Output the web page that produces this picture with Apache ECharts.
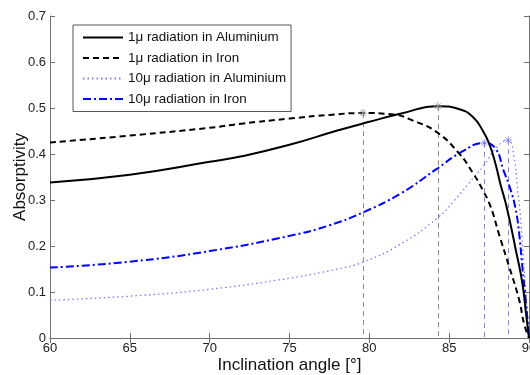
<!DOCTYPE html>
<html>
<head>
<meta charset="utf-8">
<script src="https://cdn.jsdelivr.net/npm/echarts@6/dist/echarts.min.js"></script>
<style>
  html, body { margin: 0; padding: 0; background: #fff; }
  #chart { width: 530px; height: 375px; }
</style>
</head>
<body>
<div id="chart"></div>
<script>
// 1 micron radiation in aluminium (solid black)
const alu1Angle = [60, 65, 70, 72, 75, 78, 80, 82, 84.3, 85.6, 86.5, 87.1, 87.5, 87.9, 88.2, 88.6, 89.17, 89.58, 89.83, 90];
const alu1Abs = [0.338, 0.355, 0.383, 0.395, 0.42, 0.451, 0.47, 0.488, 0.504, 0.498, 0.48, 0.451, 0.423, 0.379, 0.336, 0.285, 0.192, 0.12, 0.048, 0];

// 1 micron radiation in iron (dashed black)
const iron1Angle = [60, 65, 70, 72, 75, 77.5, 79.6, 81.5, 82.7, 84.2, 85.6, 86.5, 87.1, 87.6, 88.1, 88.75, 89.375, 89.7, 90];
const iron1Abs = [0.425, 0.44, 0.457, 0.466, 0.477, 0.485, 0.489, 0.486, 0.473, 0.448, 0.402, 0.358, 0.322, 0.285, 0.228, 0.156, 0.084, 0.03, 0];

// 10 micron radiation in aluminium (dotted light blue)
const alu10Angle = [60, 65, 70, 75, 78, 79.6, 82, 84.3, 85.3, 86.56, 87.1, 88.1, 88.7, 89.06, 89.27, 89.45, 89.6, 89.8, 90];
const alu10Abs = [0.082, 0.091, 0.106, 0.13, 0.15, 0.165, 0.205, 0.262, 0.298, 0.35, 0.372, 0.419, 0.43, 0.394, 0.33, 0.27, 0.2, 0.1, 0];

// 10 micron radiation in iron (dash-dot blue)
const iron10Angle = [60, 65, 70, 75, 77.5, 79.6, 82, 84.2, 85.8, 87.2, 87.9, 88.4, 88.85, 89.17, 89.375, 89.58, 89.79, 90];
const iron10Abs = [0.153, 0.166, 0.189, 0.222, 0.245, 0.273, 0.315, 0.367, 0.405, 0.424, 0.412, 0.365, 0.322, 0.279, 0.23, 0.156, 0.084, 0];

// peak markers
const peakAngle = [79.6, 84.3, 87.2, 88.7];
const peakAbs = [0.489, 0.504, 0.424, 0.43];
const peakColor = ['#8a8a8a', '#8a8a8a', '#8080ff', '#8080ff'];

const seriesNames = [
  '1\u03bc radiation in Aluminium',
  '1\u03bc radiation in Iron',
  '10\u03bc radiation in Aluminium',
  '10\u03bc radiation in Iron'
];

const xTicks = { min: 60, max: 90, interval: 5 };
const yTicks = { min: 0, max: 0.7, interval: 0.1 };

const font = 'Liberation Sans, Arial, Helvetica, sans-serif';
const zip = (xs, ys) => xs.map((x, i) => [x, ys[i]]);

const chart = echarts.init(document.getElementById('chart'));

const axisCommon = {
  axisLine: { show: true, lineStyle: { color: '#707070', width: 1 } },
  axisTick: { show: true, inside: true, length: 5, lineStyle: { color: '#707070' } },
  splitLine: { show: false }
};

const asterisk = 'path://M5,0L5,10M0,5L10,5M1.5,1.5L8.5,8.5M8.5,1.5L1.5,8.5';

const option = {
  animation: false,
  backgroundColor: '#fff',
  textStyle: { fontFamily: font },
  grid: { left: 50, right: 1, top: 16, bottom: 37, outerBoundsMode: 'none', containLabel: false },
  legend: {
    data: seriesNames,
    orient: 'vertical',
    left: 73,
    top: 25,
    padding: [6, 5, 6, 9],
    itemWidth: 40,
    itemHeight: 14,
    itemGap: 7.5,
    backgroundColor: '#fff',
    borderColor: '#555',
    borderWidth: 1,
    borderRadius: 0,
    itemStyle: { opacity: 0 },
    textStyle: { fontSize: 13.4, color: '#111', fontFamily: font }
  },
  xAxis: [
    Object.assign({
      type: 'value',
      min: xTicks.min, max: xTicks.max, interval: xTicks.interval,
      name: 'Inclination angle [\u00b0]',
      nameLocation: 'middle',
      nameGap: 19,
      nameMoveOverlap: false,
      nameTextStyle: { fontSize: 17, color: '#111', fontFamily: font },
      axisLabel: { fontSize: 13, color: '#222', margin: 4, fontFamily: font }
    }, axisCommon),
    Object.assign({
      type: 'value', position: 'top',
      min: xTicks.min, max: xTicks.max, interval: xTicks.interval,
      axisLabel: { show: false }
    }, axisCommon)
  ],
  yAxis: [
    Object.assign({
      type: 'value',
      min: yTicks.min, max: yTicks.max, interval: yTicks.interval,
      name: 'Absorptivity',
      nameLocation: 'middle',
      nameGap: 21,
      nameMoveOverlap: false,
      nameTextStyle: { fontSize: 17, color: '#111', fontFamily: font },
      axisLabel: {
        fontSize: 13, color: '#222', margin: 4, fontFamily: font,
        formatter: v => String(Math.round(v * 10) / 10)
      }
    }, axisCommon),
    Object.assign({
      type: 'value', position: 'right',
      min: yTicks.min, max: yTicks.max, interval: yTicks.interval,
      axisLabel: { show: false }
    }, axisCommon)
  ],
  series: [
    {
      name: seriesNames[0],
      type: 'line',
      data: zip(alu1Angle, alu1Abs),
      smooth: 0.5,
      symbol: 'none',
      z: 5,
      lineStyle: { color: '#000', width: 2, type: 'solid' },
      itemStyle: { color: '#000' }
    },
    {
      name: seriesNames[1],
      type: 'line',
      data: zip(iron1Angle, iron1Abs),
      smooth: 0.5,
      symbol: 'none',
      z: 5,
      lineStyle: { color: '#000', width: 2, type: [6, 4] },
      itemStyle: { color: '#000' }
    },
    {
      name: seriesNames[2],
      type: 'line',
      data: zip(alu10Angle, alu10Abs),
      smooth: 0.5,
      symbol: 'none',
      z: 4,
      lineStyle: { color: '#7b7bff', width: 1.3, type: [1.5, 3] },
      itemStyle: { color: '#7b7bff' }
    },
    {
      name: seriesNames[3],
      type: 'line',
      data: zip(iron10Angle, iron10Abs),
      smooth: 0.5,
      symbol: 'none',
      z: 4,
      lineStyle: { color: '#0000ff', width: 2, type: [8, 3, 2, 3] },
      itemStyle: { color: '#0000ff' }
    },
    {
      name: 'peaks',
      type: 'scatter',
      symbol: asterisk,
      symbolSize: 8,
      z: 6,
      data: peakAngle.map((a, i) => ({
        value: [a, peakAbs[i]],
        itemStyle: { color: 'rgba(0,0,0,0)', borderColor: peakColor[i], borderWidth: 1 }
      })),
      markLine: {
        silent: true,
        symbol: ['none', 'none'],
        label: { show: false },
        z: 2,
        data: peakAngle.map((a, i) => [
          { coord: [a, peakAbs[i]], lineStyle: { color: peakColor[i], width: 1, type: [5, 4] } },
          { coord: [a, 0] }
        ])
      }
    }
  ]
};

chart.setOption(option);
</script>
</body>
</html>
